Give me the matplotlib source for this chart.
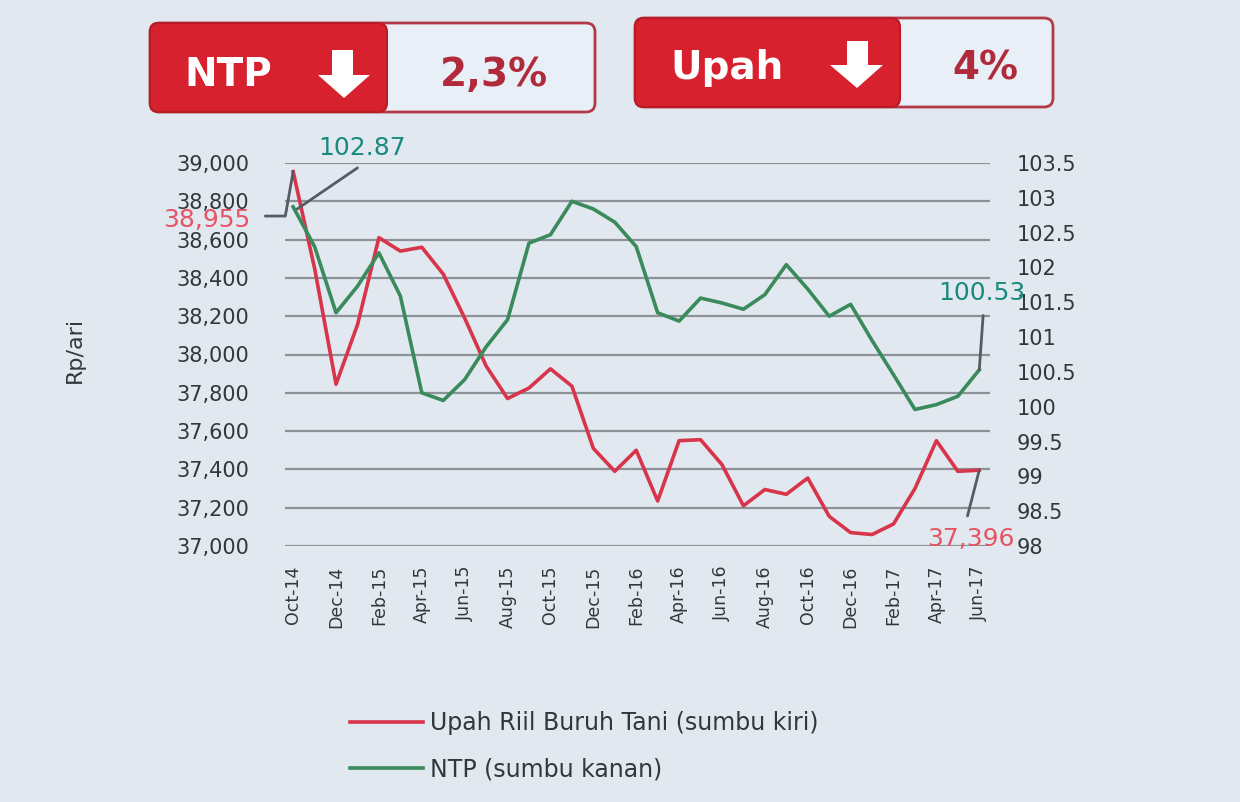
import matplotlib
matplotlib.use('Agg')
import matplotlib.pyplot as plt
from matplotlib.patches import FancyBboxPatch, Polygon
import numpy as np
import pandas as pd

months = pd.date_range('2014-10-01', '2017-06-01', freq='MS').strftime('%b-%y').tolist()

# upah riil buruh tani (Rp/hari), sumbu kiri
upah = [38955, 38450, 37845, 38155, 38610, 38540, 38560, 38420, 38190, 37940,
        37770, 37825, 37925, 37835, 37510, 37390, 37500, 37235, 37550, 37555,
        37425, 37210, 37295, 37270, 37355, 37155, 37070, 37060, 37115, 37300,
        37550, 37390, 37396]

# NTP, sumbu kanan
ntp = [102.87, 102.30, 101.35, 101.73, 102.21, 101.59, 100.20, 100.09, 100.39, 100.86,
       101.25, 102.35, 102.47, 102.95, 102.84, 102.65, 102.30, 101.35, 101.23, 101.56,
       101.49, 101.40, 101.61, 102.04, 101.69, 101.30, 101.47, 100.95, 100.46, 99.96,
       100.03, 100.15, 100.53]

left_ticks = np.arange(37000, 39001, 200)
right_ticks = np.arange(98, 103.51, 0.5)

bg = '#e1e8f0'
red = '#d8344a'
green = '#3a8a5c'
grey_txt = '#33373c'
leader = '#555b62'

fig = plt.figure(figsize=(12.4, 8.02), dpi=100, facecolor=bg)

# header boxes drawn in pixel space
ov = fig.add_axes([0, 0, 1, 1], zorder=0)
ov.set_xlim(0, 1240)
ov.set_ylim(802, 0)
ov.axis('off')

def header(x0, y0, w, wred, h, name, val, xname, xval, base, arrow):
    ov.add_patch(FancyBboxPatch((x0, y0), w, h, boxstyle='round,pad=0,rounding_size=9',
                                facecolor='#e9eff6', edgecolor='#b23a48', lw=2))
    ov.add_patch(FancyBboxPatch((x0, y0), wred, h, boxstyle='round,pad=0,rounding_size=9',
                                facecolor='#d7212e', edgecolor='#b81c28', lw=1.5))
    ov.text(xname, base, name, color='white', fontsize=28, fontweight='bold',
            ha='center', va='baseline')
    ov.text(xval, base, val, color='#b02a3c', fontsize=28, fontweight='bold',
            ha='center', va='baseline')
    ov.add_patch(Polygon(arrow, closed=True, facecolor='white', edgecolor='none'))

header(150, 23, 445, 237, 89, 'NTP', '2,3%', 228, 494, 86,
       [(332, 50), (353, 50), (353, 75), (370, 75), (344, 98), (318, 75), (332, 75)])
header(635, 18, 418, 265, 89, 'Upah', '4%', 727, 985, 79,
       [(847, 41), (868, 41), (868, 65), (883, 65), (857, 88), (830, 65), (847, 65)])

# main chart
ax = fig.add_axes([285 / 1240, 1 - 546 / 802, 705 / 1240, 383 / 802], zorder=2)
ax.patch.set_alpha(0)
ax2 = ax.twinx()

x = np.arange(len(months))
l1, = ax.plot(x, upah, color=red, lw=2.6, zorder=3)
l2, = ax2.plot(x, ntp, color=green, lw=2.6, zorder=3)

ax.set_xlim(-0.38, 32.5)
ax.set_ylim(37000, 39000)
ax2.set_ylim(98, 103.5)
ax.set_yticks(left_ticks)
ax.set_yticklabels([f'{v:,.0f}' for v in left_ticks])
ax2.set_yticks(right_ticks)
ax2.set_yticklabels([f'{v:g}' for v in right_ticks])
ax.set_xticks(x[::2])
ax.set_xticklabels(months[::2], rotation=90)

ax.yaxis.grid(True, color='#8d9298', lw=1.6)
ax.set_axisbelow(True)
for a in (ax, ax2):
    for s in a.spines.values():
        s.set_visible(False)
ax.tick_params(axis='y', length=0, pad=26, labelsize=15, labelcolor=grey_txt)
ax2.tick_params(axis='y', length=0, pad=19, labelsize=15, labelcolor=grey_txt)
ax.tick_params(axis='x', length=0, pad=14, labelsize=12.5, labelcolor=grey_txt)

# value call-outs
arrow_kw = dict(arrowstyle='-', color=leader, lw=2, shrinkA=0, shrinkB=0)
ax.text(-2.0, 38700, '38,955', color='#e65566', fontsize=18, ha='right', va='center')
ax.annotate('', xy=(0, upah[0]), xytext=(-1.3, 38723), annotation_clip=False,
            arrowprops=dict(connectionstyle='angle,angleA=0,angleB=80,rad=0', **arrow_kw))
ax2.text(3.2, 103.71, '102.87', color='#1a8a7e', fontsize=18, ha='center', va='center')
ax2.annotate('', xy=(0.19, 102.84), xytext=(3.0, 103.43), annotation_clip=False,
             arrowprops=arrow_kw)
ax2.text(32.1, 101.64, '100.53', color='#1a8a7e', fontsize=18, ha='center', va='center')
ax2.annotate('', xy=(32, ntp[-1]), xytext=(32.18, 101.31), annotation_clip=False,
             arrowprops=arrow_kw)
ax.text(31.6, 37035, '37,396', color='#e65566', fontsize=18, ha='center', va='center')
ax.annotate('', xy=(32, upah[-1]), xytext=(31.45, 37157), annotation_clip=False,
            arrowprops=arrow_kw)

fig.text(75 / 1240, 1 - 350 / 802, 'Rp/ari', rotation=90, fontsize=16,
         color=grey_txt, ha='center', va='center')

fig.legend([l1, l2], ['Upah Riil Buruh Tani (sumbu kiri)', 'NTP (sumbu kanan)'],
           loc='upper left', bbox_to_anchor=(350 / 1240, 1 - 711 / 802),
           frameon=False, fontsize=17, handlelength=3.1, handletextpad=0.3,
           labelspacing=0.95, borderpad=0, borderaxespad=0, labelcolor=grey_txt)

fig.savefig('out.png', dpi=100, facecolor=bg)
